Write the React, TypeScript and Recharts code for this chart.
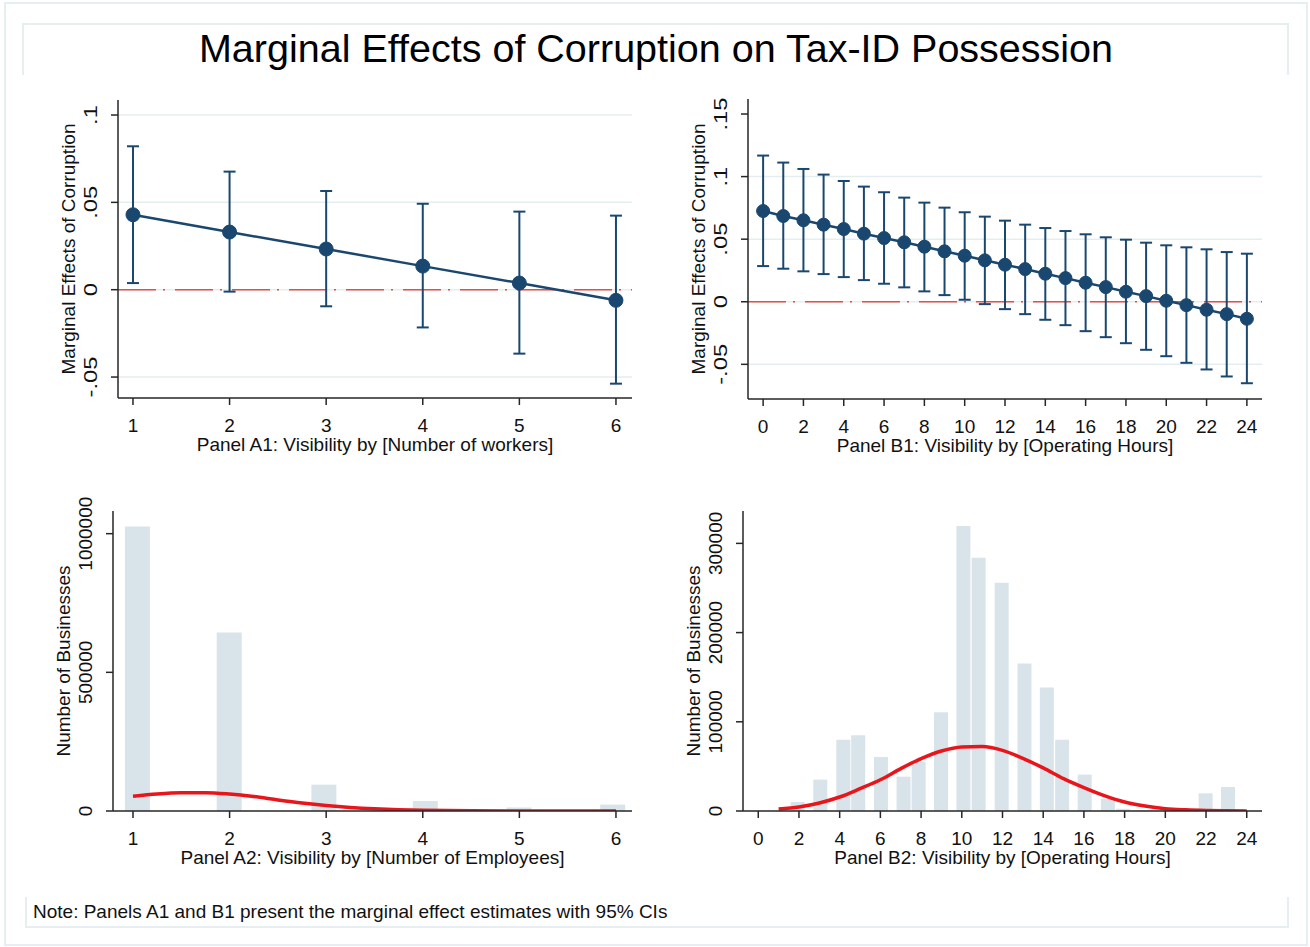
import React from 'react';
import {
  ComposedChart,
  Line,
  Bar,
  XAxis,
  YAxis,
  ErrorBar,
  ReferenceLine,
  Label,
} from 'recharts';

const FONT = '"Liberation Sans", Arial, Helvetica, sans-serif';
const NAVY = '#1a476f';
const RED = '#e8161b';
const ZERO_RED = '#f04848';
const GRID = '#e4edf0';
const BAR_FILL = '#d9e4ea';
const AXIS = '#262626';
const TEXT = '#111111';
const FRAME = '#e6eef1';

// Panel A1: marginal effect by number of workers
const workers = [1, 2, 3, 4, 5, 6];
const workersEst = [0.0429, 0.033, 0.0233, 0.0135, 0.0038, -0.0061];
const workersLo = [0.0038, -0.0011, -0.0095, -0.0216, -0.0366, -0.0538];
const workersHi = [0.0821, 0.0676, 0.0565, 0.0492, 0.0447, 0.0424];

// Panel B1: marginal effect by operating hours
const hours = [0, 1, 2, 3, 4, 5, 6, 7, 8, 9, 10, 11, 12, 13, 14, 15, 16, 17, 18, 19, 20, 21, 22, 23, 24];
const hoursEst = [
  0.0725, 0.0685, 0.0651, 0.0616, 0.0581, 0.0544, 0.0509, 0.0475, 0.044, 0.0403, 0.0368, 0.0331, 0.0296,
  0.0261, 0.0224, 0.0189, 0.0152, 0.0117, 0.008, 0.0045, 0.0008, -0.0027, -0.0064, -0.0099, -0.0136,
];
const hoursLo = [
  0.0285, 0.0264, 0.0243, 0.0221, 0.0197, 0.0173, 0.0144, 0.0115, 0.0083, 0.0053, 0.0016, -0.0019, -0.0059,
  -0.0099, -0.0144, -0.0187, -0.0235, -0.0283, -0.0331, -0.0384, -0.0435, -0.0488, -0.0541, -0.0597, -0.0651,
];
const hoursHi = [
  0.1168, 0.1112, 0.1061, 0.1016, 0.0965, 0.092, 0.0875, 0.0832, 0.0792, 0.0752, 0.0715, 0.068, 0.0648,
  0.0616, 0.0589, 0.0565, 0.0539, 0.0515, 0.0496, 0.0472, 0.0451, 0.0435, 0.0419, 0.0397, 0.0384,
];

// Panel A2: histogram of employees + normal curve
const employeeBins = [1.05, 2.0, 2.98, 4.03, 5.0, 5.97];
const employeeCounts = [1026000, 644000, 95000, 36000, 13000, 23000];
const employeeCurveX = [1, 1.25, 1.5, 1.75, 2, 2.25, 2.5, 2.75, 3, 3.25, 3.5, 3.75, 4, 4.5, 5, 5.5, 6];
const employeeCurveY = [
  53000, 61000, 65500, 66000, 61000, 52000, 40000, 29000, 20000, 13000, 8000, 4500, 2500, 600, 100, 0, 0,
];

// Panel B2: histogram of operating hours + normal curve
const hourBins = [
  1.96, 3.07, 4.2, 4.93, 6.05, 7.16, 7.9, 9.0, 10.1, 10.85, 11.98, 13.1, 14.2, 14.95, 16.06, 17.2, 17.95, 19.1,
  19.85, 21.0, 22.0, 23.1,
];
const hourCounts = [
  10100, 35200, 80000, 85000, 60600, 38500, 55400, 110700, 319500, 284000, 255900, 165400, 138400, 80000,
  40800, 13500, 2500, 1200, 800, 500, 19800, 26900,
];
const hourCurveX = [1, 2, 3, 4, 5, 6, 7, 8, 9, 10, 11, 12, 13, 14, 15, 16, 17, 18, 19, 20, 21, 22, 23, 24];
const hourCurveY = [
  2200, 4500, 9000, 15700, 25000, 35000, 47500, 58700, 67300, 71800, 72300, 68000, 59000, 48300, 36300,
  26200, 17200, 10100, 5600, 2600, 1300, 600, 300, 100,
];

const effectTicks = [-0.05, 0, 0.05, 0.1];
const effectTicksB = [-0.05, 0, 0.05, 0.1, 0.15];
const workerTicks = [1, 2, 3, 4, 5, 6];
const hourTicks = [0, 2, 4, 6, 8, 10, 12, 14, 16, 18, 20, 22, 24];
const countTicksA = [0, 500000, 1000000];
const countTicksB = [0, 100000, 200000, 300000];

type Box = { left: number; top: number; right: number; bottom: number };

const PAD = { left: 110, top: 20, right: 20, bottom: 80 };
const Y_W = 70;
const X_H = 30;

function frame(b: Box) {
  return {
    style: { position: 'absolute' as const, left: b.left - PAD.left, top: b.top - PAD.top },
    width: b.right - b.left + PAD.left + PAD.right,
    height: b.bottom - b.top + PAD.top + PAD.bottom,
    margin: { left: PAD.left - Y_W, top: PAD.top, right: PAD.right, bottom: PAD.bottom - X_H },
  };
}

const fmtEffect = (v: number) => (v === 0 ? '0' : String(v).replace('0.', '.'));
const fmtCount = (v: number) => String(v);

// stata draws the rotated y labels a bit stretched along the text
const rotTick = (fmt: (v: number) => string, stretch: number) => (props: any) => {
  const { x, y, payload } = props;
  return (
    <text
      transform={`translate(${x}, ${y}) rotate(-90) scale(${stretch}, 1)`}
      textAnchor="middle"
      fontSize={19}
      fontFamily={FONT}
      fill={TEXT}
    >
      {fmt(payload.value)}
    </text>
  );
};

const xTitle = (text: string) => (props: any) => {
  const vb = props.viewBox;
  return (
    <text x={vb.x + vb.width / 2} y={vb.y + 53} textAnchor="middle" fontSize={19} fontFamily={FONT} fill={TEXT}>
      {text}
    </text>
  );
};

const yTitle = (text: string, gap: number) => (props: any) => {
  const vb = props.viewBox;
  const x = vb.x + vb.width - gap;
  const y = vb.y + vb.height / 2;
  return (
    <text
      x={x}
      y={y}
      transform={`rotate(-90, ${x}, ${y})`}
      textAnchor="middle"
      fontSize={19}
      fontFamily={FONT}
      fill={TEXT}
    >
      {text}
    </text>
  );
};

const axisLine = { stroke: AXIS, strokeWidth: 1.5 };
const xTick = { fontSize: 19, fontFamily: FONT, fill: TEXT };

interface EffectPanelProps {
  box: Box;
  xs: number[];
  est: number[];
  lo: number[];
  hi: number[];
  xDomain: [number, number];
  yDomain: [number, number];
  xTicks: number[];
  yTicks: number[];
  grid: number[];
  dotR: number;
  xLabel: string;
}

function EffectPanel({ box, xs, est, lo, hi, xDomain, yDomain, xTicks, yTicks, grid, dotR, xLabel }: EffectPanelProps) {
  const data = xs.map((x, i) => ({ x, est: est[i], err: [est[i] - lo[i], hi[i] - est[i]] }));
  const f = frame(box);
  return (
    <div style={f.style}>
      <ComposedChart width={f.width} height={f.height} margin={f.margin} data={data}>
        <XAxis
          type="number"
          dataKey="x"
          domain={xDomain}
          allowDataOverflow
          ticks={xTicks}
          interval={0}
          height={X_H}
          axisLine={axisLine}
          tickLine={axisLine}
          tickSize={7}
          tickMargin={13.5}
          tick={xTick}
        >
          <Label content={xTitle(xLabel)} />
        </XAxis>
        <YAxis
          type="number"
          domain={yDomain}
          allowDataOverflow
          ticks={yTicks}
          interval={0}
          width={Y_W}
          axisLine={axisLine}
          tickLine={axisLine}
          tickSize={7}
          tickMargin={14}
          tick={rotTick(fmtEffect, 1.25)}
        >
          <Label content={yTitle('Marginal Effects of Corruption', 43)} />
        </YAxis>
        {grid.map((g) => (
          <ReferenceLine key={g} y={g} stroke={GRID} strokeWidth={1.5} />
        ))}
        <ReferenceLine y={0} stroke={ZERO_RED} strokeWidth={1.5} strokeDasharray="38 7 2 10" />
        <Line
          dataKey="est"
          type="linear"
          stroke={NAVY}
          strokeWidth={2.5}
          dot={{ r: dotR, fill: NAVY, stroke: NAVY, strokeWidth: 1 }}
          activeDot={false}
          isAnimationActive={false}
        >
          <ErrorBar dataKey="err" direction="y" width={6} stroke={NAVY} strokeWidth={2} />
        </Line>
      </ComposedChart>
    </div>
  );
}

interface HistPanelProps {
  box: Box;
  bins: number[];
  counts: number[];
  curveX: number[];
  curveY: number[];
  xDomain: [number, number];
  yDomain: [number, number];
  xTicks: number[];
  yTicks: number[];
  barSize: number;
  xLabel: string;
}

function HistPanel({ box, bins, counts, curveX, curveY, xDomain, yDomain, xTicks, yTicks, barSize, xLabel }: HistPanelProps) {
  const bars = bins.map((x, i) => ({ x, count: counts[i] }));
  const curve = curveX.map((x, i) => ({ x, dens: curveY[i] }));
  const f = frame(box);
  return (
    <div style={f.style}>
      <ComposedChart width={f.width} height={f.height} margin={f.margin} data={bars}>
        <XAxis
          type="number"
          dataKey="x"
          domain={xDomain}
          allowDataOverflow
          ticks={xTicks}
          interval={0}
          height={X_H}
          axisLine={axisLine}
          tickLine={axisLine}
          tickSize={7}
          tickMargin={13.5}
          tick={xTick}
        >
          <Label content={xTitle(xLabel)} />
        </XAxis>
        {/* separate hidden x axis so the curve points don't shrink the bars */}
        <XAxis xAxisId="curve" type="number" dataKey="x" domain={xDomain} allowDataOverflow hide />
        <YAxis
          type="number"
          domain={yDomain}
          allowDataOverflow
          ticks={yTicks}
          interval={0}
          width={Y_W}
          axisLine={axisLine}
          tickLine={axisLine}
          tickSize={7}
          tickMargin={14}
          tick={rotTick(fmtCount, 1)}
        >
          <Label content={yTitle('Number of Businesses', 43)} />
        </YAxis>
        <Bar dataKey="count" fill={BAR_FILL} barSize={barSize} isAnimationActive={false} />
        <Line
          xAxisId="curve"
          data={curve}
          dataKey="dens"
          type="monotone"
          stroke={RED}
          strokeWidth={3.5}
          dot={false}
          activeDot={false}
          isAnimationActive={false}
        />
      </ComposedChart>
    </div>
  );
}

export default function App() {
  return (
    <div style={{ position: 'absolute', left: 0, top: 0, width: 1310, height: 947, background: '#fff', fontFamily: FONT }}>
      {/* outer frame, title box, note box */}
      <div style={{ position: 'absolute', left: 4, top: 2, width: 1300, height: 940, border: `2px solid ${FRAME}` }} />
      <div
        style={{
          position: 'absolute',
          left: 22,
          top: 23,
          width: 1263,
          height: 50,
          borderTop: `2px solid ${FRAME}`,
          borderLeft: `2px solid ${FRAME}`,
          borderRight: `2px solid ${FRAME}`,
        }}
      />
      <div
        style={{
          position: 'absolute',
          left: 25,
          top: 897,
          width: 1260,
          height: 29,
          borderLeft: `2px solid ${FRAME}`,
          borderRight: `2px solid ${FRAME}`,
          borderBottom: `2px solid ${FRAME}`,
        }}
      />
      <svg width={1310} height={947} style={{ position: 'absolute', left: 0, top: 0 }}>
        <text x={656} y={62} textAnchor="middle" fontSize={39.5} fontFamily={FONT} fill="#000">
          Marginal Effects of Corruption on Tax-ID Possession
        </text>
        <text x={33} y={918} fontSize={19} fontFamily={FONT} fill={TEXT}>
          Note: Panels A1 and B1 present the marginal effect estimates with 95% CIs
        </text>
      </svg>

      <EffectPanel
        box={{ left: 118, top: 100, right: 632, bottom: 398 }}
        xs={workers}
        est={workersEst}
        lo={workersLo}
        hi={workersHi}
        xDomain={[0.845, 6.166]}
        yDomain={[-0.062, 0.1086]}
        xTicks={workerTicks}
        yTicks={effectTicks}
        grid={effectTicks}
        dotR={7}
        xLabel="Panel A1: Visibility by [Number of workers]"
      />
      <EffectPanel
        box={{ left: 748, top: 99, right: 1262, bottom: 399 }}
        xs={hours}
        est={hoursEst}
        lo={hoursLo}
        hi={hoursHi}
        xDomain={[-0.75, 24.75]}
        yDomain={[-0.0777, 0.162]}
        xTicks={hourTicks}
        yTicks={effectTicksB}
        grid={effectTicks}
        dotR={6.5}
        xLabel="Panel B1: Visibility by [Operating Hours]"
      />
      <HistPanel
        box={{ left: 113, top: 511, right: 632, bottom: 811 }}
        bins={employeeBins}
        counts={employeeCounts}
        curveX={employeeCurveX}
        curveY={employeeCurveY}
        xDomain={[0.793, 6.166]}
        yDomain={[0, 1081730]}
        xTicks={workerTicks}
        yTicks={countTicksA}
        barSize={25}
        xLabel="Panel A2: Visibility by [Number of Employees]"
      />
      <HistPanel
        box={{ left: 743, top: 511, right: 1262, bottom: 811 }}
        bins={hourBins}
        counts={hourCounts}
        curveX={hourCurveX}
        curveY={hourCurveY}
        xDomain={[-0.75, 24.75]}
        yDomain={[0, 336300]}
        xTicks={hourTicks}
        yTicks={countTicksB}
        barSize={14}
        xLabel="Panel B2: Visibility by [Operating Hours]"
      />
    </div>
  );
}
